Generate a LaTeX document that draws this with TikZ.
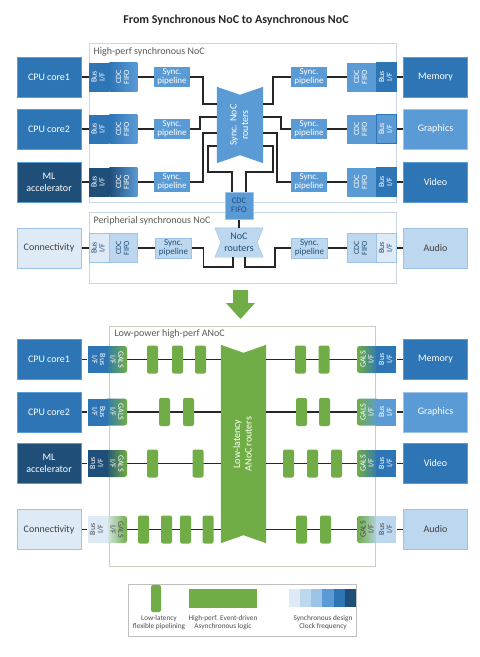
\documentclass[tikz,border=0pt]{standalone}
\usepackage{fontspec}
\setmainfont{Carlito}
\usepackage{graphicx}
\usetikzlibrary{positioning}

\definecolor{b1}{HTML}{DEEBF7}
\definecolor{b2}{HTML}{BDD7EE}
\definecolor{b3}{HTML}{9DC3E6}
\definecolor{b4}{HTML}{5B9BD5}
\definecolor{b5}{HTML}{2E75B6}
\definecolor{b6}{HTML}{1F4E79}
\definecolor{grn}{HTML}{70AD47}
\definecolor{frm}{HTML}{C8D6E5}
\definecolor{frmg}{HTML}{C9CDBF}

\pgfdeclarelayer{back}
\pgfdeclarelayer{wires}
\pgfsetlayers{back,wires,main}

\newcommand{\rotlab}[3]{\rotatebox{#1}{\begin{tabular}{@{}c@{}}#2\\#3\end{tabular}}}

\begin{document}
\begin{tikzpicture}[x=1pt, y=-1pt,
  dev/.style={rectangle, minimum width=64, minimum height=40, inner sep=1pt,
    align=center, font=\fontsize{10}{12}\selectfont, text=white, draw=b4, fill=b5},
  ifc/.style={rectangle, minimum height=29, inner sep=0pt,
    font=\fontsize{8}{8}\selectfont, text=white},
  gals/.style={ifc, minimum width=22, minimum height=27, rounded corners=2.5pt},
  pipe/.style={rectangle, minimum width=36, minimum height=20, inner sep=0pt,
    align=center, font=\fontsize{9}{8.5}\selectfont, fill=b4, text=white},
  gblk/.style={rectangle, rounded corners=2pt, fill=grn, minimum width=11,
    minimum height=28, inner sep=0pt},
  rtr/.style={rectangle, inner sep=0pt, font=\fontsize{10}{11.5}\selectfont},
  wire/.style={line width=1.5pt, black!85},
  sect/.style={draw=frm, line width=0.8pt},
  lbl/.style={anchor=west, font=\fontsize{10}{12}\selectfont, text=black!65},
  leg/.style={align=center, font=\fontsize{7.3}{8}\selectfont, text=black!70}]

\useasboundingbox (0,0) rectangle (480,657);
\begin{pgfonlayer}{back}
  \fill[white] (0,0) rectangle (480,657);
\end{pgfonlayer}

\node[font=\fontsize{12}{14}\selectfont\bfseries, text=black!85] (title) at (236,20)
  {From Synchronous NoC to Asynchronous NoC};

% sections
\draw[sect] (89,43) rectangle (396,202);
\draw[sect] (89,212) rectangle (396,283);
\draw[sect, draw=frmg] (109,326) rectangle (375,566);
\node[lbl] (s1) at (90,52) {High-perf synchronous NoC};
\node[lbl] (s2) at (90,221) {Peripherial synchronous NoC};
\node[lbl] (s3) at (111,334) {Low-power high-perf ANoC};

% synchronous side
\node[dev] (cpu1) at (49,77) {CPU core1};
\node[dev] (cpu2) at (49,129) {CPU core2};
\node[dev, fill=b6] (ml) at (49,182) {ML\\accelerator};
\node[dev, fill=b1, draw=b3, text=black!75] (con) at (49,248) {Connectivity};
\node[dev] (mem) at (435.5,77) {Memory};
\node[dev, fill=b4, draw=b3] (gfx) at (435.5,129) {Graphics};
\node[dev] (vid) at (435.5,182) {Video};
\node[dev, fill=b2, draw=b3, text=black!75] (aud) at (435.5,248) {Audio};

\foreach \i/\y/\c in {1/77/b5, 2/129/b5, 3/182/b6} {
  \node[ifc, minimum width=20, fill=\c] (bi\i) at (99,\y) {\rotlab{90}{Bus}{I/F}};
  \node[ifc, minimum width=28, left color=\c, right color=b4, right=0pt of bi\i] (cf\i)
    {\rotlab{90}{CDC}{FIFO}};
  \node[pipe] (spl\i) at (172,\y) {Sync.\\pipeline};
}
\node[ifc, minimum width=20, fill=b1, draw=b3, text=b6] (bi4) at (99,248) {\rotlab{90}{Bus}{I/F}};
\node[ifc, minimum width=28, fill=b2, draw=b3, text=b6, right=0pt of bi4] (cf4)
  {\rotlab{90}{CDC}{FIFO}};
\node[pipe, fill=b2, draw=b3, text=b6] (spl4) at (173.5,248) {Sync.\\pipeline};

\foreach \i/\y/\d in {1/77/b5, 2/129/b4, 3/182/b5} {
  \node[pipe] (spr\i) at (309,\y) {Sync.\\pipeline};
  \node[ifc, minimum width=29, fill=b4] (cr\i) at (361.5,\y) {\rotlab{90}{CDC}{FIFO}};
  \node[ifc, minimum width=20, fill=\d, draw=b5, right=0pt of cr\i] (br\i)
    {\rotlab{90}{Bus}{I/F}};
}
\node[pipe, fill=b2, draw=b3, text=b6] (spr4) at (309.5,248) {Sync.\\pipeline};
\node[ifc, minimum width=29, fill=b2, draw=b3, text=b6] (cr4) at (361.5,248) {\rotlab{90}{CDC}{FIFO}};
\node[ifc, minimum width=20, fill=b1, draw=b3, text=b6, right=0pt of cr4] (br4)
  {\rotlab{90}{Bus}{I/F}};

\node[rtr, minimum width=46, minimum height=76, text=white] (snr) at (240,125)
  {\rotlab{90}{Sync. NoC}{routers}};
\node[rtr, minimum width=48, minimum height=29, text=b6, align=center] (nr) at (239,242.5)
  {NoC\\routers};
\node[rectangle, minimum width=28, minimum height=27, inner sep=0pt, fill=b4, draw=b3,
  text=b6, align=center, font=\fontsize{8.5}{9}\selectfont] (mcdc) at (239,205.5) {CDC\\FIFO};

\begin{pgfonlayer}{back}
  \fill[b4] (snr.north west) -- ([yshift=-8pt]snr.north) -- (snr.north east)
    -- (snr.south east) -- ([yshift=8pt]snr.south) -- (snr.south west) -- cycle;
  \filldraw[fill=b2, draw=b3] (nr.north west) -- (nr.north east) -- ([xshift=-6pt]nr.east)
    -- (nr.south east) -- (nr.south west) -- ([xshift=6pt]nr.west) -- cycle;
\end{pgfonlayer}

\begin{pgfonlayer}{wires}
  \foreach \a/\b in {cpu1/bi1, cpu2/bi2, ml/bi3, con/bi4, cf1/spl1, cf2/spl2, cf3/spl3,
      cf4/spl4, spr1/cr1, spr2/cr2, spr3/cr3, spr4/cr4, br1/mem, br2/gfx, br3/vid, br4/aud}
    \draw[wire] (\a) -- (\b);
  \draw[wire] (spl1.east) -- ++(13,0) |- ([yshift=-17pt]snr.north west);
  \draw[wire] (spl2.east) -- ++(10,0) |- ([yshift=-30pt]snr.north west);
  \draw[wire] (spl3.east) -- ++(13,0) |- ([yshift=-46pt]snr.north west);
  \draw[wire] ([yshift=-59pt]snr.north west) -- ++(-9,0) -- ++(0,26) -| ([xshift=-7pt]mcdc.north);
  \draw[wire] ([yshift=-17pt]snr.north east) -- ++(10,0) |- (spr1.west);
  \draw[wire] ([yshift=-30pt]snr.north east) -- ++(18,0) |- (spr2.west);
  \draw[wire] ([yshift=-46pt]snr.north east) -- ++(14,0) |- (spr3.west);
  \draw[wire] ([yshift=-59pt]snr.north east) -- ++(10,0) -- ++(0,26) -| ([xshift=7pt]mcdc.north);
  \draw[wire] (mcdc) -- (nr);
  \draw[wire] (spl4.east) -- ++(12,0) -- ++(0,19) -| ([xshift=-6pt]nr.south);
  \draw[wire] ([xshift=6pt]nr.south) -- ++(0,10) -- ++(30,0) |- (spr4.west);
\end{pgfonlayer}

% green arrow
\fill[grn] (233,290) -- (248,290) -- (248,303) -- (255,303) -- (240.5,319) -- (226,303)
  -- (233,303) -- cycle;

% asynchronous side
\node[dev] (cpu1b) at (49,359.5) {CPU core1};
\node[dev] (cpu2b) at (49,412) {CPU core2};
\node[dev, fill=b6] (mlb) at (49,463.5) {ML\\accelerator};
\node[dev, fill=b1, draw=b3, text=black!75] (conb) at (49,529.5) {Connectivity};
\node[dev] (memb) at (435.5,359.5) {Memory};
\node[dev, fill=b4, draw=b3] (gfxb) at (435.5,412) {Graphics};
\node[dev] (vidb) at (435.5,463.5) {Video};
\node[dev, fill=b2, draw=b3, text=black!75] (audb) at (435.5,529.5) {Audio};

\foreach \i/\y/\c/\r/\t in {1/359.5/b5/-90/white, 2/412/b5/-90/white, 3/463.5/b6/90/white,
    4/529.5/b1/90/black!70} {
  \node[gals, left color=\c, right color=grn, text=\t] (lg\i) at (116,\y) {\rotlab{-90}{GALS}{I/F}};
  \node[ifc, minimum width=20, minimum height=27, fill=\c, text=\t, left=-3pt of lg\i] (lb\i)
    {\rotlab{\r}{Bus}{I/F}};
}
\foreach \i/\y/\c/\t in {1/359.5/b5/white, 2/412/b4/white, 3/463.5/b5/white, 4/529.5/b2/black!70} {
  \node[gals, left color=grn, right color=\c, text=\t] (rg\i) at (368,\y) {\rotlab{90}{GALS}{I/F}};
  \node[ifc, minimum width=20, minimum height=27, fill=\c, text=\t, right=-3pt of rg\i] (rb\i)
    {\rotlab{90}{Bus}{I/F}};
}

\node[rtr, minimum width=45, minimum height=198, text=white] (ar) at (243.5,444)
  {\rotlab{90}{Low-latency}{ANoC routers}};
\begin{pgfonlayer}{back}
  \fill[grn] (ar.north west) -- ([yshift=-8pt]ar.north) -- (ar.north east)
    -- (ar.south east) -- ([yshift=8pt]ar.south) -- (ar.south west) -- cycle;
\end{pgfonlayer}

\foreach \x/\y [count=\k] in {152.5/359.5, 177.5/359.5, 200.5/359.5, 300.5/359.5, 324/359.5,
    164.5/412, 188.5/412, 301.5/412, 324.5/412,
    152.5/463.5, 198/463.5, 288.5/463.5, 312.5/463.5, 336.5/463.5,
    143.5/529.5, 166.5/529.5, 185.5/529.5, 208/529.5, 301.5/529.5, 325.5/529.5}
  \node[gblk] (p\k) at (\x,\y) {};

\begin{pgfonlayer}{wires}
  \foreach \i/\a/\b in {1/cpu1b/memb, 2/cpu2b/gfxb, 3/mlb/vidb, 4/conb/audb} {
    \draw[wire] (\a) -- (lb\i);
    \draw[wire] (lg\i) -- (ar.west |- lg\i.east);
    \draw[wire] (ar.east |- rg\i.west) -- (rg\i);
    \draw[wire] (rb\i) -- (\b);
  }
\end{pgfonlayer}

% legend
\draw[gray!50, line width=0.8pt] (128,584) rectangle (356,636);
\node[gblk, minimum width=10, minimum height=27] (key1) at (156,598.5) {};
\node[rectangle, fill=grn, minimum width=68, minimum height=19, inner sep=0pt] (key2) at (223,598.5) {};
\foreach \c [count=\k from 0] in {b1,b2,b3,b4,b5,b6}
  \fill[\c] ({289+11.15*\k},589) rectangle ++(11.15,18);
\node[leg] (t1) at (159,623) {Low-latency\\flexible pipelining};
\node[leg] (t2) at (223,623) {High-perf. Event-driven\\Asynchronous logic};
\node[leg] (t3) at (323,623) {Synchronous design\\Clock frequency};
\end{tikzpicture}
\end{document}
